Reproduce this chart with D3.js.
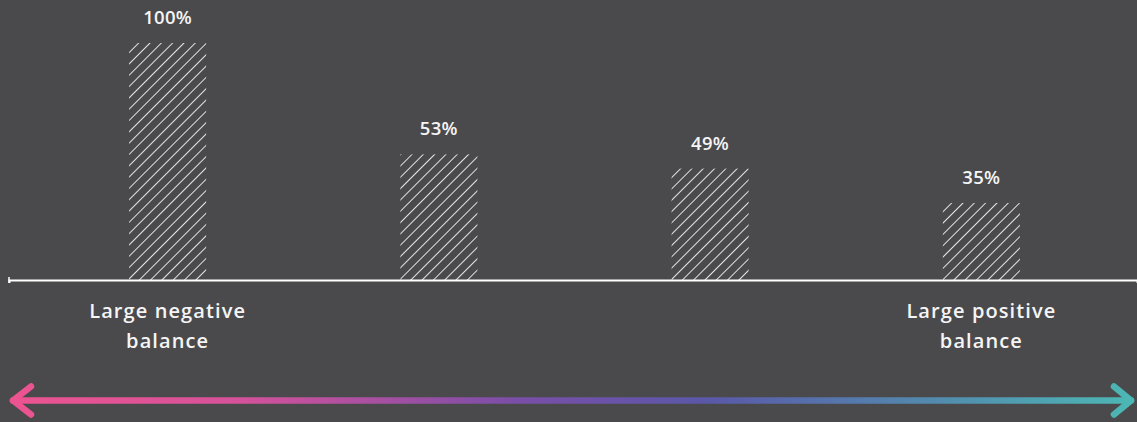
<!DOCTYPE html>
<html>
<head>
<meta charset="utf-8">
<script src="https://cdn.jsdelivr.net/npm/d3@7"></script>
<style>
  html, body { margin: 0; padding: 0; background: #4a4a4c; }
  svg { display: block; }
  text { font-family: "Open Sans", "Noto Sans", sans-serif; fill: #f5f5f5; }
</style>
</head>
<body>
<svg id="chart" width="1137" height="422"></svg>
<script>
const categories = ["Large negative balance", "group2", "group3", "Large positive balance"];
const categoryLines = [["Large negative", "balance"], [], [], ["Large positive", "balance"]];
const barValues = [100, 53, 47, 32.5];
const valueLabels = ["100%", "53%", "49%", "35%"];

const W = 1137, H = 422;
const svg = d3.select("#chart");

const defs = svg.append("defs");
const pat = defs.append("pattern")
  .attr("id", "hatch")
  .attr("patternUnits", "userSpaceOnUse")
  .attr("width", 8).attr("height", 8)
  .attr("patternTransform", "rotate(45)");
pat.append("line")
  .attr("x1", 0).attr("y1", 0).attr("x2", 0).attr("y2", 8)
  .attr("stroke", "#ffffff").attr("stroke-width", 1.7);

const grad = defs.append("linearGradient")
  .attr("id", "arrowGrad")
  .attr("gradientUnits", "userSpaceOnUse")
  .attr("x1", 10).attr("x2", 1135).attr("y1", 0).attr("y2", 0);
[[0, "#ec5490"], [0.2, "#d6529a"], [0.45, "#7a4ea8"], [0.62, "#5a58a8"], [1, "#4cb8b4"]]
  .forEach(([o, c]) => grad.append("stop").attr("offset", o).attr("stop-color", c));

const x = d3.scaleBand()
  .domain(categories)
  .range([32, 1117])
  .paddingInner(0.716)
  .paddingOuter(0.358);

const y = d3.scaleLinear().domain([0, 100]).range([280, 43]);

// bars
svg.append("g").selectAll("rect")
  .data(categories)
  .join("rect")
  .attr("x", d => x(d))
  .attr("width", x.bandwidth())
  .attr("y", (d, i) => y(barValues[i]))
  .attr("height", (d, i) => y(0) - y(barValues[i]))
  .attr("fill", "url(#hatch)");

// value labels
svg.append("g").selectAll("text")
  .data(categories)
  .join("text")
  .attr("x", d => x(d) + x.bandwidth() / 2)
  .attr("y", (d, i) => y(barValues[i]) - 19)
  .attr("text-anchor", "middle")
  .attr("font-size", 18.5)
  .attr("font-weight", 600)
  .attr("letter-spacing", 0.3)
  .text((d, i) => valueLabels[i]);

// axis
const axisScale = d3.scaleLinear().domain([0, 1]).range([9, 1137]);
const axis = d3.axisBottom(axisScale).tickValues([]).tickSizeOuter(3);
const ag = svg.append("g").attr("transform", `translate(0,${y(0)})`).call(axis);
ag.select(".domain").attr("stroke", "#ffffff").attr("stroke-width", 2);
svg.append("line")
  .attr("x1", 9).attr("x2", 9).attr("y1", y(0) - 3).attr("y2", y(0) + 3)
  .attr("stroke", "#ffffff").attr("stroke-width", 1.5);

// category labels
const cg = svg.append("g").selectAll("text")
  .data(categories)
  .join("text")
  .attr("x", d => x(d) + x.bandwidth() / 2)
  .attr("y", 318)
  .attr("text-anchor", "middle")
  .attr("font-size", 20)
  .attr("font-weight", 600)
  .attr("letter-spacing", 1.1);
cg.each(function(d, i) {
  const t = d3.select(this);
  categoryLines[i].forEach((line, j) => {
    t.append("tspan")
      .attr("x", x(d) + x.bandwidth() / 2)
      .attr("dy", j === 0 ? 0 : 30)
      .text(line);
  });
});

// gradient arrow
const ay = 400.5;
const arrow = svg.append("g")
  .attr("stroke", "url(#arrowGrad)")
  .attr("stroke-width", 6.5)
  .attr("stroke-linecap", "round")
  .attr("stroke-linejoin", "round")
  .attr("fill", "none");
arrow.append("line").attr("x1", 13).attr("x2", 1131).attr("y1", ay).attr("y2", ay);
arrow.append("path").attr("d", `M31,${ay - 14} L13,${ay} L31,${ay + 14}`);
arrow.append("path").attr("d", `M1114,${ay - 14} L1131,${ay} L1114,${ay + 14}`);
</script>
</body>
</html>
